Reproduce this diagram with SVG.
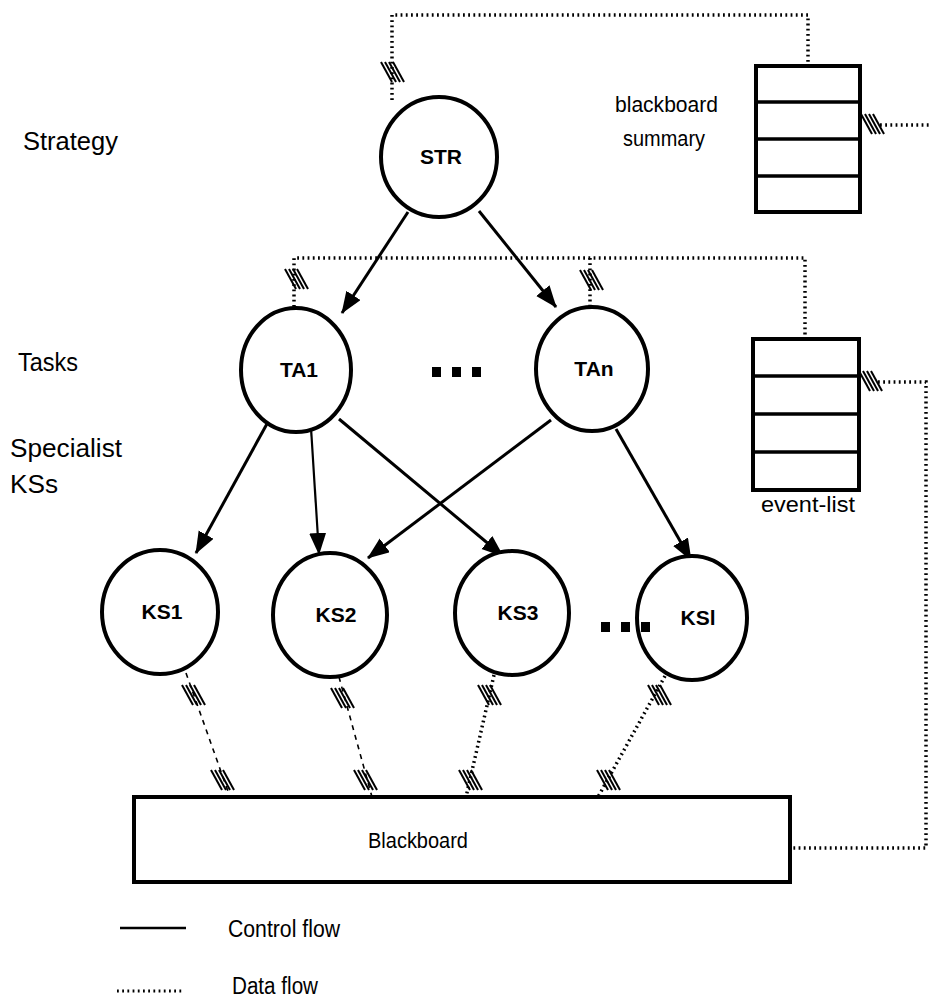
<svg xmlns="http://www.w3.org/2000/svg" width="929" height="1003" viewBox="0 0 929 1003">
<style>
.node{fill:#fff;stroke:#000;stroke-width:4}
.nl{font-family:"Liberation Sans",Arial,sans-serif;font-weight:bold;font-size:21px;text-anchor:middle}
.lbl{font-family:"Liberation Sans",Arial,sans-serif;font-size:22px}
.side{font-family:"Liberation Sans",Arial,sans-serif;font-size:25px}
.ctl{stroke:#000;stroke-width:3;fill:none;marker-end:url(#ah)}
.dat{stroke:#000;stroke-width:3.5;fill:none;stroke-dasharray:1.8 3.4}
.dat2{stroke:#000;stroke-width:1.6;fill:none;stroke-dasharray:5 5}
.box{fill:#fff;stroke:#000;stroke-width:4}
.div{stroke:#000;stroke-width:3.5}
.dot{fill:#000}
.h line{stroke:#000;stroke-width:2}
</style>
<defs>
<marker id="ah" markerUnits="userSpaceOnUse" markerWidth="24" markerHeight="18" refX="21" refY="8.5" orient="auto">
<path d="M0,0 L22,8.5 L0,17 Z" fill="#000"/>
</marker>
<g id="hatch" class="h">
<line x1="-12" y1="-10" x2="-1" y2="10"/>
<line x1="-8" y1="-10" x2="3" y2="10"/>
<line x1="-4" y1="-10" x2="7" y2="10"/>
<line x1="0" y1="-10" x2="11" y2="10"/>
</g>
</defs>

<g id="connectors">
<!-- control flow -->
<line class="ctl" x1="408" y1="212" x2="342" y2="313"/>
<line class="ctl" x1="479" y1="211" x2="556" y2="307"/>
<line class="ctl" x1="268" y1="422" x2="196" y2="553"/>
<line class="ctl" x1="311" y1="428" x2="319" y2="554" style="stroke-width:2.2"/>
<line class="ctl" x1="339" y1="419" x2="503" y2="556"/>
<line class="ctl" x1="551" y1="420" x2="368" y2="558"/>
<line class="ctl" x1="616" y1="429" x2="691" y2="560"/>

<!-- data flow -->
<path class="dat" d="M392 100 L392 15 L808 15 L808 66"/>
<path class="dat" d="M294 312 L294 258 L805 258 L805 339"/>
<path class="dat" d="M590 258 L590 307"/>
<path class="dat" d="M880 125 L929 125"/>
<path class="dat" d="M878 382 L926 382 L926 848 L792 848"/>
<path class="dat2" d="M186 673 L230 797"/>
<path class="dat2" d="M339 677 L372 797"/>
<path class="dat" d="M494 675 L466 797"/>
<path class="dat" d="M665 676 L598 797"/>

<!-- hatch marks -->
<use href="#hatch" transform="translate(393,72)"/>
<use href="#hatch" transform="translate(297,279)"/>
<use href="#hatch" transform="translate(592,280)"/>
<use href="#hatch" transform="translate(873,124)"/>
<use href="#hatch" transform="translate(871,381)"/>
<use href="#hatch" transform="translate(194,695)"/>
<use href="#hatch" transform="translate(223,780)"/>
<use href="#hatch" transform="translate(343,698)"/>
<use href="#hatch" transform="translate(366,780)"/>
<use href="#hatch" transform="translate(490,695)"/>
<use href="#hatch" transform="translate(471,780)"/>
<use href="#hatch" transform="translate(660,695)"/>
<use href="#hatch" transform="translate(609,780)"/>
</g>

<g id="STR">
<ellipse class="node" cx="439" cy="157" rx="58" ry="60"/>
<text class="nl" x="441" y="164">STR</text>
</g>
<g id="TA1">
<ellipse class="node" cx="296" cy="370" rx="55" ry="62"/>
<text class="nl" x="299" y="377">TA1</text>
</g>
<g id="TAn">
<ellipse class="node" cx="592" cy="369" rx="56" ry="62"/>
<text class="nl" x="594" y="376">TAn</text>
</g>
<g id="dots1">
<rect class="dot" x="432" y="367" width="9" height="10"/>
<rect class="dot" x="452" y="367" width="9" height="10"/>
<rect class="dot" x="472" y="367" width="9" height="10"/>
</g>
<g id="KS1">
<ellipse class="node" cx="160" cy="612" rx="58" ry="62"/>
<text class="nl" x="162" y="619">KS1</text>
</g>
<g id="KS2">
<ellipse class="node" cx="330" cy="615" rx="57" ry="62"/>
<text class="nl" x="336" y="622">KS2</text>
</g>
<g id="KS3">
<ellipse class="node" cx="512" cy="613" rx="57" ry="62"/>
<text class="nl" x="518" y="620">KS3</text>
</g>
<g id="KSl">
<ellipse class="node" cx="692" cy="618" rx="55" ry="62"/>
<text class="nl" x="698" y="625">KSl</text>
</g>
<g id="dots2">
<rect class="dot" x="601" y="622" width="9" height="10"/>
<rect class="dot" x="621" y="622" width="9" height="10"/>
<rect class="dot" x="641" y="622" width="9" height="10"/>
</g>

<g id="summary">
<rect class="box" x="756" y="66" width="104" height="146"/>
<line class="div" x1="756" y1="102" x2="860" y2="102"/>
<line class="div" x1="756" y1="139" x2="860" y2="139"/>
<line class="div" x1="756" y1="176" x2="860" y2="176"/>
<text class="lbl" x="615" y="112" textLength="103" lengthAdjust="spacingAndGlyphs">blackboard</text>
<text class="lbl" x="623" y="146" textLength="82" lengthAdjust="spacingAndGlyphs">summary</text>
</g>
<g id="eventlist">
<rect class="box" x="753" y="339" width="106" height="151"/>
<line class="div" x1="753" y1="376" x2="859" y2="376"/>
<line class="div" x1="753" y1="414" x2="859" y2="414"/>
<line class="div" x1="753" y1="452" x2="859" y2="452"/>
<text class="lbl" x="761" y="512" textLength="94" lengthAdjust="spacingAndGlyphs">event-list</text>
</g>

<g id="blackboard">
<rect class="box" x="134" y="797" width="656" height="85"/>
<text class="lbl" x="368" y="848" textLength="100" lengthAdjust="spacingAndGlyphs">Blackboard</text>
</g>

<g id="labels">
<text class="side" x="23" y="150" textLength="95" lengthAdjust="spacingAndGlyphs">Strategy</text>
<text class="side" x="18" y="371" textLength="60" lengthAdjust="spacingAndGlyphs">Tasks</text>
<text class="side" x="10" y="457" textLength="112" lengthAdjust="spacingAndGlyphs">Specialist</text>
<text class="side" x="10" y="493" textLength="48" lengthAdjust="spacingAndGlyphs">KSs</text>
</g>

<g id="legend">
<line x1="120" y1="928" x2="186" y2="928" stroke="#000" stroke-width="2.5"/>
<text class="lbl" x="228" y="937" textLength="112" lengthAdjust="spacingAndGlyphs" style="font-size:23px">Control  flow</text>
<line x1="117" y1="991" x2="183" y2="991" class="dat" style="stroke-width:3"/>
<text class="lbl" x="232" y="994" textLength="86" lengthAdjust="spacingAndGlyphs" style="font-size:23px">Data  flow</text>
</g>
</svg>
